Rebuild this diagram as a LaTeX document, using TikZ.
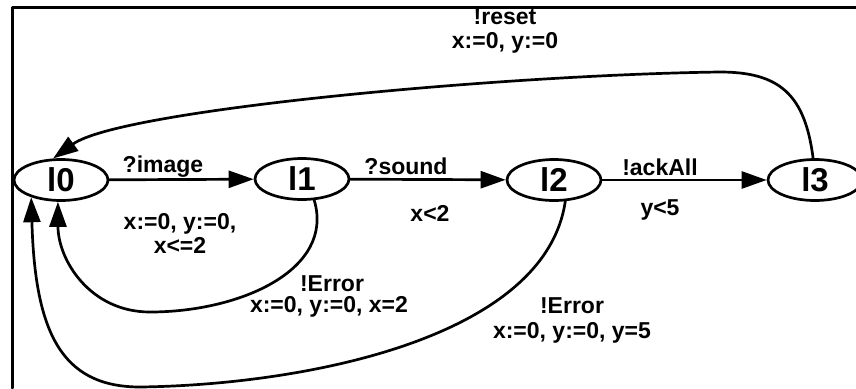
\documentclass[tikz,border=0pt]{standalone}
\usepackage{fontspec}
\setmainfont{Liberation Sans}
\usepackage{tikz}
\usetikzlibrary{automata}
\usetikzlibrary{arrows,arrows.meta}
\usetikzlibrary{shapes.geometric}

\tikzset{
  loc/.style={ellipse,draw,line width=2.7pt,minimum width=94pt,minimum height=41pt,inner sep=0pt,font=\bfseries\fontsize{33}{33}\selectfont},
  trans/.style={line width=2.7pt,-{Triangle[length=25pt,width=17pt]}},
  lab/.style={font=\bfseries\fontsize{23}{24}\selectfont,inner sep=1pt,align=center}
}

\begin{document}
\begin{tikzpicture}[line cap=round,line join=round,x=1pt,y=-1pt]
\useasboundingbox (0,0) rectangle (856,388);
\clip (0,0) rectangle (856,388);
\draw [line width=3pt] (12,388) -- (12,7) -- (856,7);
% locations
\node [loc] (l0) at (61,180) {l0};
\node [loc] (l1) at (302,179) {l1};
\node [loc] (l2) at (554,180) {l2};
\node [loc] (l3) at (815,180) {l3};
% forward transitions
\draw [trans] (l0) -- (l1);
\draw [trans] (l1) -- (l2);
\draw [trans] (l2) -- (l3);
% back to l0
\draw [trans] (l3.95) .. controls (805,95) and (780,72) .. (720,72)
  .. controls (500,75) and (120,110) .. (l0.110);
\draw [trans] (l1.-60) .. controls (335,270) and (240,312) .. (150,312)
  .. controls (90,312) and (58,260) .. (l0.-98);
\draw [trans] (l2.-62) .. controls (545,340) and (300,385) .. (140,387)
  .. controls (60,387) and (35,330) .. (l0.-150);
% guards and updates
\node [lab] (image) at (163,167) {?image};
\node [lab] (upd01) at (180,233) {x:=0, y:=0,\\x<=2};
\node [lab] (sound) at (406,166) {?sound};
\node [lab] (grd12) at (430,213) {x<2};
\node [lab] (ack) at (660,167) {!ackAll};
\node [lab] (grd23) at (660,210) {y<5};
\node [lab] (reset) at (505,17) {!reset};
\node [lab] (upd30) at (505,43) {x:=0, y:=0};
\node [lab] (err1) at (332,284) {!Error};
\node [lab] (upd10) at (329,307) {x:=0, y:=0, x=2};
\node [lab] (err2) at (572,306) {!Error};
\node [lab] (upd20) at (572,333) {x:=0, y:=0, y=5};
\end{tikzpicture}
\end{document}
